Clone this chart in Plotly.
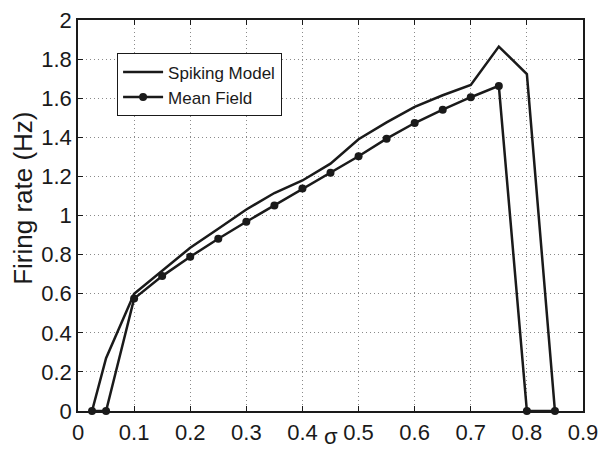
import plotly.graph_objects as go

# Data
sigma_spiking = [0.025, 0.05, 0.1, 0.15, 0.2, 0.25, 0.3, 0.35, 0.4, 0.45, 0.5, 0.55, 0.6, 0.65, 0.7, 0.75, 0.8, 0.85]
rate_spiking = [0.0, 0.27, 0.60, 0.716, 0.835, 0.932, 1.031, 1.115, 1.179, 1.265, 1.39, 1.476, 1.556, 1.615, 1.668, 1.864, 1.723, 0.0]

sigma_mean = [0.025, 0.05, 0.1, 0.15, 0.2, 0.25, 0.3, 0.35, 0.4, 0.45, 0.5, 0.55, 0.6, 0.65, 0.7, 0.75, 0.8, 0.85]
rate_mean = [0.0, 0.0, 0.575, 0.69, 0.789, 0.881, 0.968, 1.051, 1.138, 1.219, 1.303, 1.393, 1.473, 1.541, 1.605, 1.663, 0.0, 0.0]

x_ticks = [0, 0.1, 0.2, 0.3, 0.4, 0.5, 0.6, 0.7, 0.8, 0.9]
x_labels = ["0", "0.1", "0.2", "0.3", "0.4", "0.5", "0.6", "0.7", "0.8", "0.9"]
y_ticks = [0, 0.2, 0.4, 0.6, 0.8, 1.0, 1.2, 1.4, 1.6, 1.8, 2.0]
y_labels = ["0", "0.2", "0.4", "0.6", "0.8", "1", "1.2", "1.4", "1.6", "1.8", "2"]

FONT = "Liberation Sans, Arial, Helvetica, sans-serif"
INK = "#1a1a1a"

fig = go.Figure()
fig.add_trace(go.Scatter(
    x=sigma_spiking, y=rate_spiking, mode="lines", name="Spiking Model",
    line=dict(color=INK, width=2.5), cliponaxis=False,
))
fig.add_trace(go.Scatter(
    x=sigma_mean, y=rate_mean, mode="lines+markers", name="Mean Field",
    line=dict(color=INK, width=2.5), marker=dict(color=INK, size=8),
    cliponaxis=False,
))

axis_common = dict(
    showline=True, linecolor=INK, linewidth=1.5, mirror="ticks",
    ticks="inside", ticklen=5, tickcolor=INK, tickwidth=1,
    showgrid=True, gridcolor="#8a8a8a", gridwidth=1, griddash="1px,3px",
    zeroline=False, automargin=False,
    tickfont=dict(family=FONT, size=22, color=INK),
)

fig.update_layout(
    width=609, height=450,
    margin=dict(l=78, r=26, t=20, b=39),
    paper_bgcolor="white", plot_bgcolor="white",
    showlegend=True,
    legend=dict(
        x=0.077, y=0.915, xanchor="left", yanchor="top",
        bgcolor="white", bordercolor=INK, borderwidth=1.2,
        font=dict(family=FONT, size=17, color=INK),
        tracegroupgap=0, itemwidth=40,
    ),
    xaxis=dict(range=[0, 0.9], tickvals=x_ticks, ticktext=x_labels, ticklabelstandoff=1, **axis_common),
    yaxis=dict(range=[0, 2], tickvals=y_ticks, ticktext=y_labels, **axis_common),
)

fig.add_annotation(
    text="Firing rate (Hz)", xref="paper", yref="paper", x=-0.109, y=0.545,
    xanchor="center", yanchor="middle", textangle=-90, showarrow=False,
    font=dict(family=FONT, size=26, color=INK),
)

fig.add_annotation(
    text="σ", xref="paper", yref="paper", x=0.5, y=-0.064,
    xanchor="center", yanchor="middle", showarrow=False,
    font=dict(family=FONT, size=22, color=INK),
)

fig.write_html("out.html")
